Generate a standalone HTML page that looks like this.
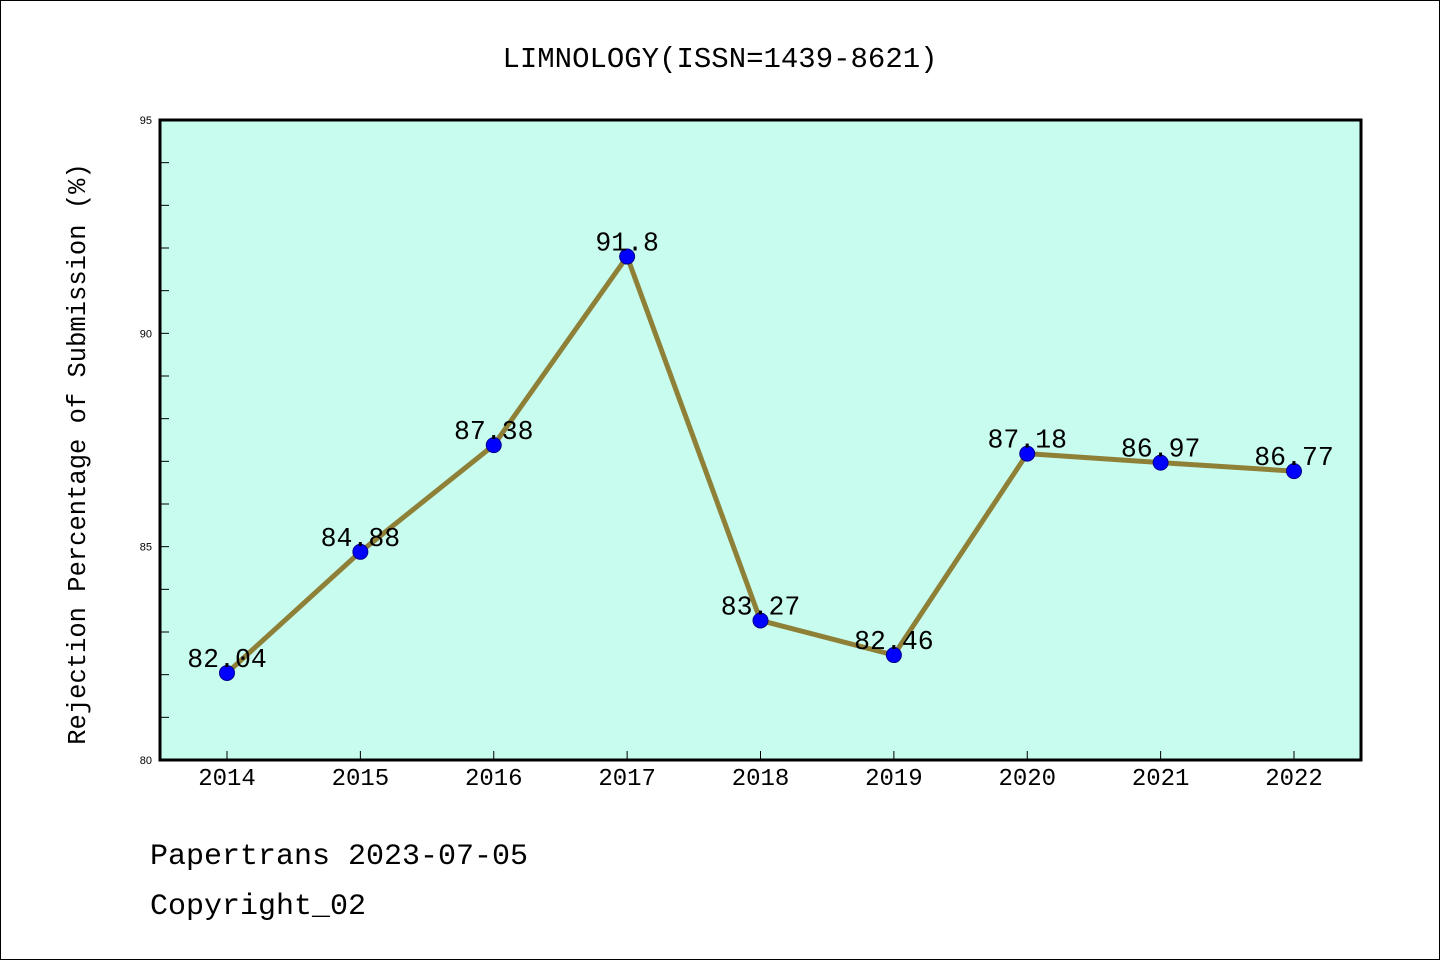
<!DOCTYPE html>
<html><head><meta charset="utf-8"><style>
body{margin:0;background:#fff}
svg{display:block;font-family:"Liberation Mono","WenQuanYi Zen Hei",monospace}
</style></head><body>
<svg width="1440" height="960">
<rect x="0.5" y="0.5" width="1439" height="959" fill="#fff" stroke="#000"/>
<text x="720" y="67" font-size="29" text-anchor="middle">LIMNOLOGY(ISSN=1439-8621)</text>
<rect x="160" y="120" width="1201" height="640" fill="#c8fcee"/>
<g id="axes"></g>
<g id="marks"></g>
<rect x="160" y="120" width="1201" height="640" fill="none" stroke="#000" stroke-width="3"/>
<text transform="translate(85,454) rotate(-90)" font-size="25.5" text-anchor="middle">Rejection Percentage of Submission (%)</text>
<text x="150" y="864" font-size="30">Papertrans 2023-07-05</text>
<text x="150" y="914" font-size="30">Copyright_02</text>
</svg>
<script>
const years=[2014,2015,2016,2017,2018,2019,2020,2021,2022];
const values=[82.04,84.88,87.38,91.8,83.27,82.46,87.18,86.97,86.77];
const labels=["82.04","84.88","87.38","91.8","83.27","82.46","87.18","86.97","86.77"];
const yTicks=[80,85,90,95];
const NS="http://www.w3.org/2000/svg";
const x=i=>227+i*(1294-227)/8;
const y=v=>760-(v-80)*(640/15);
function mk(t,a,p){const e=document.createElementNS(NS,t);for(const k in a)e.setAttribute(k,a[k]);p.appendChild(e);return e;}
const ax=document.getElementById('axes'),mg=document.getElementById('marks');
for(let v=80;v<=95;v++){const l=mk('line',{x1:160,x2:169,y1:y(v),y2:y(v),stroke:'#000','stroke-width':1},ax);

}
yTicks.forEach(v=>{const t=mk('text',{x:152,y:y(v)+4,'font-size':11,'text-anchor':'end','font-family':'Liberation Sans, sans-serif'},ax);t.textContent=v;

});
years.forEach((yr,i)=>{const l=mk('line',{x1:x(i),x2:x(i),y1:751,y2:760,stroke:'#000'},ax);


const t=mk('text',{x:x(i),y:785,'font-size':24,'text-anchor':'middle'},ax);t.textContent=yr;

});
const pl=mk('polyline',{points:values.map((v,i)=>x(i)+','+y(v)).join(' '),fill:'none',stroke:'#8f8038','stroke-width':5,'stroke-linejoin':'round'},mg);


values.forEach((v,i)=>{const c=mk('circle',{cx:x(i),cy:y(v),r:7.5,fill:'#0000ff',stroke:'#00008b','stroke-width':1},mg);

});
values.forEach((v,i)=>{const t=mk('text',{x:x(i),y:y(v)-6,'font-size':26.5,'text-anchor':'middle'},mg);t.textContent=labels[i];

});
</script>
</body></html>
